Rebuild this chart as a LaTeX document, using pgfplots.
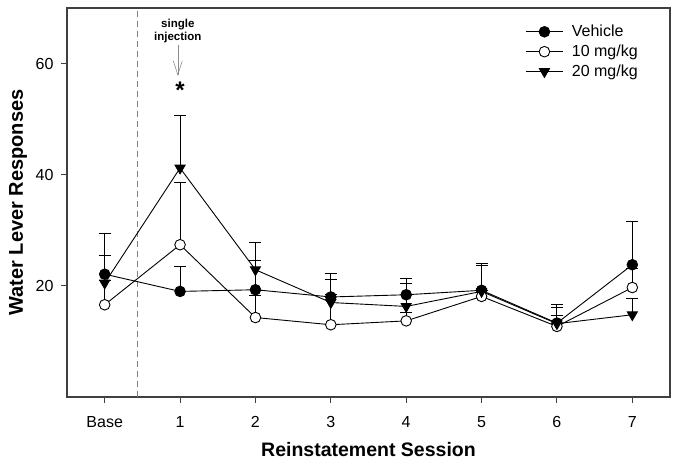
\documentclass[border=0pt]{standalone}
\usepackage{pgfplots}
\pgfplotsset{compat=1.18}
\usepackage{pgfplotstable}
\usepackage{fontspec}
\setmainfont{Liberation Sans}
\usetikzlibrary{arrows.meta}
\pgfplotstableread{
x y e
0 22.1 3.4
1 19.0 4.5
2 19.3 5.2
3 18.0 4.2
4 18.4 3.0
5 19.2 4.8
6 13.3 3.3
7 23.8 7.8
}\vehicle
\pgfplotstableread{
x y e
0 16.6 12.9
1 27.4 11.2
2 14.3 3.9
3 13.0 8.1
4 13.7 1.5
5 18.1 1.0
6 12.7 1.9
7 19.7 3.5
}\tenmg
\pgfplotstableread{
x y e
0 20.5 0.5
1 41.2 9.5
2 22.9 4.9
3 17.0 1.5
4 16.3 4.2
5 19.0 4.7
6 13.2 3.0
7 14.8 3.0
}\twentymg
\begin{document}
\begin{tikzpicture}
\begin{axis}[
  scale only axis, width=603pt, height=389pt,
  xmin=-0.5, xmax=7.5, ymin=0, ymax=70,
  xtick={0,...,7}, xticklabels={Base,1,2,3,4,5,6,7},
  ytick={20,40,60},
  tick pos=left, tick align=outside, major tick length=6pt,
  axis line style={line width=1.2pt, black!75},
  tick style={line width=1pt, black!75},
  ticklabel style={font=\fontsize{16}{18}\selectfont},
  /pgf/number format/assume math mode=true,
  xticklabel style={yshift=-9pt, text height=11.5pt, text depth=0pt},
  yticklabel style={xshift=-4pt},
  xlabel={Reinstatement Session}, ylabel={Water Lever Responses},
  xlabel style={font=\bfseries\fontsize{19.5}{22}\selectfont, at={(axis description cs:0.5,-0.136)}, anchor=center},
  ylabel style={font=\bfseries\fontsize{20}{22}\selectfont, at={(axis description cs:-0.081,0.5)}, anchor=center},
  legend style={draw=none, fill=none, inner sep=0pt,
    at={(axis description cs:0.760,0.96)}, anchor=north west,
    font=\fontsize{16}{18}\selectfont, row sep=3.8pt,
    nodes={inner sep=1.5pt},
    /tikz/every odd column/.append style={column sep=7pt}},
  legend cell align=left,
  legend image code/.code={\draw[mark indices={2},#1] plot coordinates {(0pt,0pt) (18.5pt,0pt) (37pt,0pt)};},
  clip=false,
]
\addplot[gray, dash pattern=on 6pt off 4pt, line width=0.8pt, forget plot] coordinates {(0.44,0) (0.44,70)};
\addplot[black, line width=0.9pt, mark=*, mark size=5.3pt, mark options={solid, fill=black},
  error bars/.cd, y dir=plus, y explicit, error bar style={line width=0.9pt},
  error mark options={rotate=90, mark size=6pt, line width=0.9pt}]
  table[x=x, y=y, y error=e] {\vehicle};
\addlegendentry{Vehicle}
\addplot[black, line width=0.9pt, mark=*, mark size=5.3pt, mark options={solid, fill=white},
  error bars/.cd, y dir=plus, y explicit, error bar style={line width=0.9pt},
  error mark options={rotate=90, mark size=6pt, line width=0.9pt}]
  table[x=x, y=y, y error=e] {\tenmg};
\addlegendentry{10 mg/kg}
\addplot[black, line width=0.9pt, mark=triangle*, mark size=5.8pt, mark options={solid, fill=black, rotate=180},
  error bars/.cd, y dir=plus, y explicit, error bar style={line width=0.9pt},
  error mark options={rotate=90, mark size=6pt, line width=0.9pt}]
  table[x=x, y=y, y error=e] {\twentymg};
\addlegendentry{20 mg/kg}
\node[font=\bfseries\fontsize{11.5}{13}\selectfont, align=center, inner sep=0pt] at (axis cs:0.97,65.9) {single\\injection};
\draw[black!45, line width=0.6pt, -{Straight Barb[length=14pt, width=9pt]}] (axis cs:0.97,63.4) -- (axis cs:0.97,57.8);
\node[font=\bfseries\fontsize{24}{24}\selectfont, inner sep=0pt, anchor=north] at (axis cs:1.0,56.8) {*};
\end{axis}
\pgfresetboundingbox
\path ([shift={(-67pt,-68pt)}]current axis.south west) rectangle ([shift={(9pt,8pt)}]current axis.north east);
\end{tikzpicture}
\end{document}
